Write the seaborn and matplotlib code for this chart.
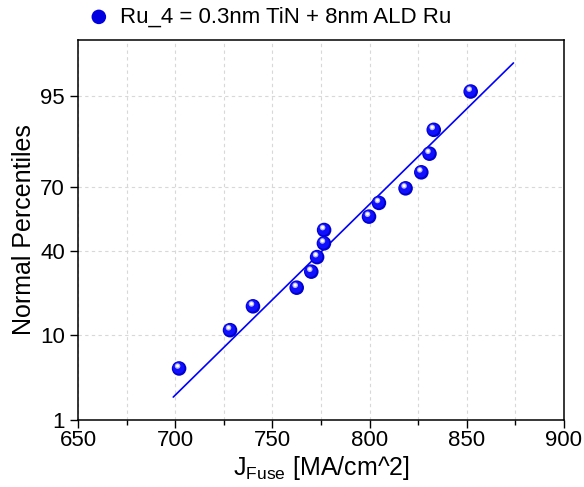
import numpy as np
import pandas as pd
import matplotlib
matplotlib.use("Agg")
import matplotlib.pyplot as plt
import matplotlib.transforms as mtransforms
from matplotlib.ticker import FixedLocator, MultipleLocator
from statistics import NormalDist
import seaborn as sns

# ---- data ----
j_fuse = [702.0, 728.2, 740.0, 762.5, 770.0, 773.0, 776.5, 776.6,
          799.7, 804.8, 818.5, 826.6, 830.8, 833.0, 852.0]
percentile = [4.5, 11.0, 17.5, 24.0, 30.5, 37.0, 43.5, 50.0,
              56.5, 63.0, 69.5, 76.0, 82.5, 89.0, 95.5]
fit_x = [699.0, 874.0]
fit_pct = [2.04, 97.96]
y_ticks = [1, 10, 40, 70, 95]
x_ticks = [650, 700, 750, 800, 850, 900]
legend_label = "Ru_4 = 0.3nm TiN + 8nm ALD Ru"

df = pd.DataFrame({"J": j_fuse, "P": percentile})

sns.set_theme(style="ticks")
plt.rcParams["font.family"] = ["Liberation Sans", "DejaVu Sans"]
plt.rcParams["mathtext.default"] = "regular"
plt.rcParams["text.color"] = "black"
plt.rcParams["axes.labelcolor"] = "black"

nd = NormalDist()
_ppf = np.vectorize(lambda v: nd.inv_cdf(v / 100.0), otypes=[float])
_cdf = np.vectorize(lambda v: nd.cdf(v) * 100.0, otypes=[float])
def fwd(p):
    p = np.clip(np.asarray(p, dtype=float), 1e-6, 100 - 1e-6)
    return _ppf(p)
def inv(z):
    return _cdf(np.asarray(z, dtype=float))

fig = plt.figure(figsize=(5.84, 4.87), dpi=100)
ax = fig.add_axes([78/584, 67/487, (564-78)/584, (420-40)/487])
ax.set_yscale("function", functions=(fwd, inv))

# fit line
ax.plot(fit_x, fit_pct, color="#0000ff", lw=1.2, zorder=3)

# sphere-like markers
sns.scatterplot(data=df, x="J", y="P", ax=ax, s=110, color="#0000d0",
                edgecolor="none", zorder=4, legend=False)
t1 = mtransforms.offset_copy(ax.transData, fig=fig, x=-0.6, y=0.6, units="dots")
sns.scatterplot(data=df, x="J", y="P", ax=ax, s=70, color="#1010ff",
                edgecolor="none", zorder=5, transform=t1, legend=False)
t2 = mtransforms.offset_copy(ax.transData, fig=fig, x=-1.5, y=2.4, units="dots")
sns.scatterplot(data=df, x="J", y="P", ax=ax, s=16, color="#b8b8ff",
                edgecolor="none", zorder=6, transform=t2, legend=False)
t3 = mtransforms.offset_copy(ax.transData, fig=fig, x=-1.5, y=2.6, units="dots")
sns.scatterplot(data=df, x="J", y="P", ax=ax, s=5, color="#ffffff",
                edgecolor="none", zorder=7, transform=t3, legend=False)

ax.set_xlim(650, 900)
ax.set_ylim(1, 99)
ax.xaxis.set_major_locator(FixedLocator(x_ticks))
ax.xaxis.set_minor_locator(MultipleLocator(25))
ax.yaxis.set_major_locator(FixedLocator(y_ticks))
ax.yaxis.set_minor_locator(FixedLocator([]))
ax.set_yticklabels([str(t) for t in y_ticks])
ax.set_xticklabels([str(t) for t in x_ticks])

ax.grid(True, which="major", axis="both", color="#d8d8d8", ls=(0, (3, 3)), lw=0.8)
ax.grid(True, which="minor", axis="x", color="#d8d8d8", ls=(0, (3, 3)), lw=0.8)
ax.set_axisbelow(True)

ax.tick_params(axis="both", which="major", direction="out", length=5.5, width=1.0,
               labelsize=16, colors="black")
ax.tick_params(axis="y", which="major", pad=4)
ax.tick_params(axis="x", which="major", pad=1.5)
ax.tick_params(axis="x", which="minor", direction="out", length=3.5, width=1.0,
               colors="black")
ax.tick_params(top=False, right=False)
for sp in ax.spines.values():
    sp.set_visible(True)
    sp.set_linewidth(1.1)
    sp.set_color("black")

ax.set_xlabel("J$_{Fuse}$ [MA/cm^2]", fontsize=18, labelpad=2, color="black")
ax.set_ylabel("Normal Percentiles", fontsize=18, labelpad=3, color="black")

h = ax.scatter([], [], s=110, color="#0000e0", edgecolor="none")
leg = ax.legend([h], [legend_label], loc="center left", bbox_to_anchor=(0.02, 1.06),
                frameon=False, fontsize=16, handlelength=1.0, handletextpad=0.45,
                borderaxespad=0, borderpad=0)
for t in leg.get_texts():
    t.set_color("black")

fig.savefig("out.png", dpi=100)
